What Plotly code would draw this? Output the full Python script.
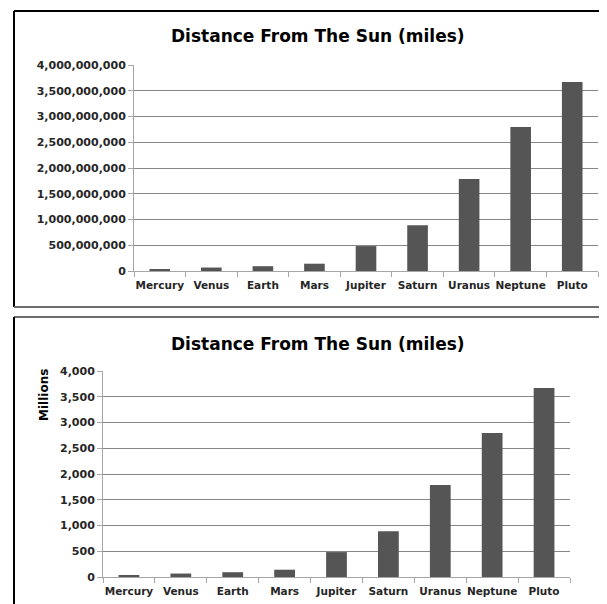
import plotly.graph_objects as go

planets = ["Mercury", "Venus", "Earth", "Mars", "Jupiter", "Saturn", "Uranus", "Neptune", "Pluto"]
distance_miles = [36.0e6, 67.2e6, 93.0e6, 141.6e6, 483.8e6, 890.7e6, 1784.0e6, 2795.0e6, 3670.0e6]
distance_millions = [v / 1e6 for v in distance_miles]

title_text = "Distance From The Sun (miles)"
unit_label = "Millions"

W, H = 607, 604
FONT = "DejaVu Sans"
BAR = "#555555"
GRID = "#878787"
AXIS = "#a6a6a6"
TXT = "#262626"


def px_x(x):
    return x / W


def px_y(y):
    return 1 - y / H


fig = go.Figure()
fig.add_trace(go.Bar(x=planets, y=distance_miles, marker=dict(color=BAR, line=dict(width=0)),
                     xaxis="x", yaxis="y", showlegend=False))
fig.add_trace(go.Bar(x=planets, y=distance_millions, marker=dict(color=BAR, line=dict(width=0)),
                     xaxis="x2", yaxis="y2", showlegend=False))

tickfont = dict(family=FONT, size=11, color=TXT, weight="bold")
catfont = dict(family=FONT, size=10.5, color=TXT, weight="bold")

xcommon = dict(type="category", tickson="boundaries", ticks="outside", ticklen=5, tickcolor=AXIS,
               showline=True, linecolor=AXIS, linewidth=1, showgrid=False, tickfont=catfont,
               tickangle=0, automargin=False, fixedrange=True, ticklabelstandoff=4)
ycommon = dict(showgrid=True, gridcolor=GRID, gridwidth=1, showline=True, linecolor=AXIS, linewidth=1,
               ticks="outside", ticklen=5, tickcolor=AXIS, zeroline=False, tickfont=tickfont,
               automargin=False, fixedrange=True)

fig.update_layout(
    width=W, height=H,
    margin=dict(l=0, r=0, t=0, b=0),
    paper_bgcolor="white", plot_bgcolor="white",
    bargap=0.6,
    xaxis=dict(domain=[px_x(126), px_x(590)], anchor="y", **xcommon),
    yaxis=dict(domain=[px_y(263), px_y(57)], anchor="x", range=[0, 4e9], dtick=5e8,
               tickformat=",d", **ycommon),
    xaxis2=dict(domain=[px_x(95), px_x(562)], anchor="y2", **xcommon),
    yaxis2=dict(domain=[px_y(569), px_y(363)], anchor="x2", range=[0, 4000], dtick=500,
                tickformat=",d", **ycommon),
)

titlefont = dict(family=FONT, size=17, color="black", weight="bold")
fig.add_annotation(text=title_text, x=px_x(310), y=px_y(28), xref="paper", yref="paper",
                   showarrow=False, font=titlefont, xanchor="center", yanchor="middle")
fig.add_annotation(text=title_text, x=px_x(310), y=px_y(336), xref="paper", yref="paper",
                   showarrow=False, font=titlefont, xanchor="center", yanchor="middle")
fig.add_annotation(text=unit_label, x=px_x(36), y=px_y(387), xref="paper", yref="paper",
                   showarrow=False, textangle=-90, xanchor="center", yanchor="middle",
                   font=dict(family=FONT, size=12, color="black", weight="bold"))

# chart frames
frames = [
    dict(x0=6, y0=3, x1=W, y1=3, color="black", w=2),
    dict(x0=6, y0=3, x1=6, y1=299, color="black", w=2),
    dict(x0=6, y0=299, x1=W, y1=299, color="#6e6e6e", w=2),
    dict(x0=6, y0=309, x1=W, y1=309, color="#6e6e6e", w=2),
    dict(x0=6, y0=309, x1=6, y1=H, color="black", w=2),
]
for f in frames:
    fig.add_shape(type="line", xref="paper", yref="paper",
                  x0=px_x(f["x0"]), y0=px_y(f["y0"]), x1=px_x(f["x1"]), y1=px_y(f["y1"]),
                  line=dict(color=f["color"], width=f["w"]))

fig.write_html("out.html")
